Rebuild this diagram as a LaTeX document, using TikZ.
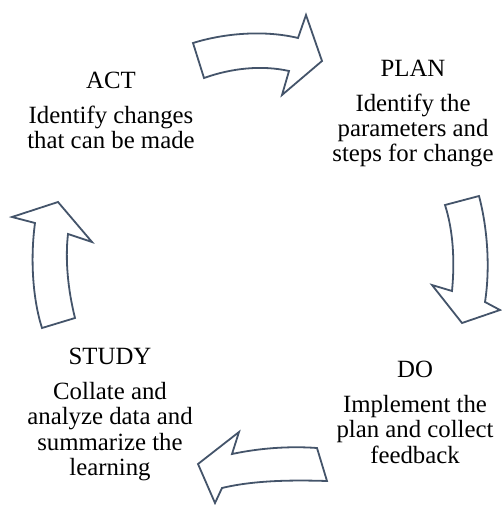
\documentclass[tikz,border=0pt]{standalone}
\usepackage{fontspec}
\setmainfont{Liberation Serif}
\definecolor{slate}{RGB}{68,84,106}
\begin{document}
\begin{tikzpicture}[x=1pt,y=-1pt,
  cyc/.style={draw=slate,line width=1.8pt,line join=miter,fill=white},
  lbl/.style={align=center,inner sep=0pt,anchor=north,font=\fontsize{24.8}{25.3}\selectfont}]
\useasboundingbox (0,0) rectangle (501,505);
% top arrow (ACT -> PLAN)
\draw[cyc] (193,43) .. controls (225,33) and (265,30) .. (298,38)
  -- (306,15) -- (322,61) -- (282,95) -- (289,71)
  .. controls (262,65) and (232,68) .. (204,78) -- cycle;
% right arrow (PLAN -> DO)
\draw[cyc] (445,205) -- (479,196) .. controls (488,230) and (490,270) .. (485,302)
  -- (500,310) -- (462,323) -- (432,285) -- (452,291)
  .. controls (455,260) and (453,230) .. (445,205) -- cycle;
% bottom arrow (DO -> STUDY)
\draw[cyc] (317,448) -- (327,481) .. controls (295,480) and (255,480) .. (222,488)
  -- (215,503) -- (198,464) -- (239,432) -- (232,454)
  .. controls (260,448) and (290,446) .. (317,448) -- cycle;
% left arrow (STUDY -> ACT)
\draw[cyc] (42,328) -- (75,318) .. controls (68,290) and (65,260) .. (68,234)
  -- (92,242) -- (58,202) -- (12,217) -- (35,223)
  .. controls (30,260) and (33,300) .. (42,328) -- cycle;
% labels
\node[lbl] (act) at (111,72) {ACT\\[9.5pt]Identify changes\\that can be made};
\node[lbl] (plan) at (413,60) {PLAN\\[9.5pt]Identify the\\parameters and\\steps for change};
\node[lbl] (study) at (110,348) {STUDY\\[9.5pt]Collate and\\analyze data and\\summarize the\\learning};
\node[lbl] (do) at (415,361) {DO\\[9.5pt]Implement the\\plan and collect\\feedback};
\end{tikzpicture}
\end{document}
